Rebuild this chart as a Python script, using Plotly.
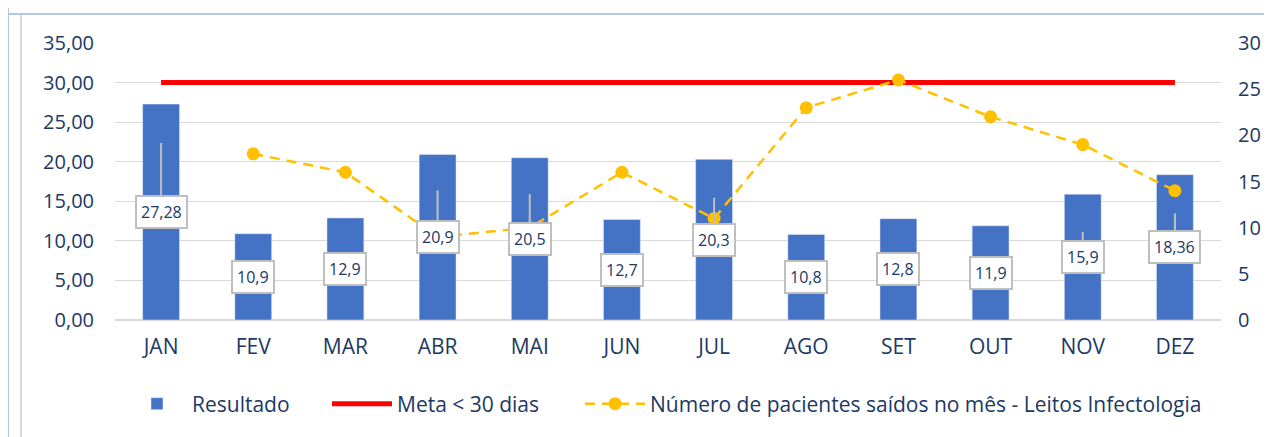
import plotly.graph_objects as go

months = ["JAN", "FEV", "MAR", "ABR", "MAI", "JUN", "JUL", "AGO", "SET", "OUT", "NOV", "DEZ"]
resultado = [27.28, 10.9, 12.9, 20.9, 20.5, 12.7, 20.3, 10.8, 12.8, 11.9, 15.9, 18.36]
meta = [30] * 12
pacientes = [None, 18, 16, 9, 10, 16, 11, 23, 26, 22, 19, 14]
left_ticks = [0, 5, 10, 15, 20, 25, 30, 35]
right_ticks = [0, 5, 10, 15, 20, 25, 30]

# callout pointer length (px above label centre), style only
pointer_px = [69, 0, 0, 47, 45, 0, 42, 0, 0, 0, 25, 34]

TEXT = "#203864"
FONT = "Open Sans"
PX_PER_UNIT = 277 / 35.0
OFF = 8  # page body margin

W, H = 1272 - OFF, 437 - OFF
L, R, T, B = 115 - OFF, 1221 - OFF, 43 - OFF, 320 - OFF

fig = go.Figure()
fig.add_trace(go.Bar(x=months, y=resultado, name="Resultado", marker_color="#4472C4",
                     width=0.4, yaxis="y", legend="legend"))
fig.add_trace(go.Scatter(x=months, y=meta, name="Meta < 30 dias", mode="lines",
                         line=dict(color="#FF0000", width=5), yaxis="y", legend="legend2"))
fig.add_trace(go.Scatter(x=months, y=pacientes, name="Número de pacientes saídos no mês - Leitos Infectologia",
                         mode="lines+markers", line=dict(color="#FFC000", width=2.5, dash="10px,7px"),
                         marker=dict(color="#FFC000", size=13), yaxis="y2", connectgaps=False,
                         legend="legend3"))

for i, (m, v) in enumerate(zip(months, resultado)):
    label = str(v).replace(".", ",")
    common = dict(text=label, font=dict(family=FONT, size=16, color=TEXT),
                  bgcolor="white", bordercolor="#BFBFBF", borderwidth=2, borderpad=4,
                  xref="x", yref="y")
    if pointer_px[i] > 0:
        fig.add_annotation(x=i, y=v / 2 + pointer_px[i] / PX_PER_UNIT,
                           ax=i, ay=v / 2, axref="x", ayref="y",
                           showarrow=True, arrowhead=0, arrowwidth=2, arrowcolor="#BFBFBF",
                           **common)
    else:
        fig.add_annotation(x=i, y=v / 2, showarrow=False, **common)

# decorative frame (page pixel -> paper)
def px_x(p):
    return (p - OFF - L) / float(R - L)

def px_y(p):
    return (B - (p - OFF)) / float(B - T)

frame = [
    dict(type="line", xref="paper", yref="paper", x0=px_x(8), x1=px_x(1272), y0=px_y(14), y1=px_y(14),
         line=dict(color="#B4C7E7", width=2)),
    dict(type="line", xref="paper", yref="paper", x0=px_x(8), x1=px_x(8), y0=px_y(8), y1=px_y(437),
         line=dict(color="#B4C7E7", width=2)),
    dict(type="line", xref="paper", yref="paper", x0=px_x(21), x1=px_x(21), y0=px_y(15), y1=px_y(437),
         line=dict(color="#D9D9D9", width=2)),
]

def leg(px_left):
    return dict(orientation="h", x=px_x(px_left), xanchor="left", y=px_y(404), yanchor="middle",
                font=dict(family=FONT, size=21, color=TEXT), itemwidth=60,
                bgcolor="rgba(0,0,0,0)")

fig.update_layout(
    width=W, height=H,
    margin=dict(l=L, r=W - R, t=T, b=H - B, autoexpand=False),
    plot_bgcolor="white", paper_bgcolor="white",
    separators=",.",
    font=dict(family=FONT, size=20, color=TEXT),
    shapes=frame,
    showlegend=True,
    legend=leg(122),
    legend2=leg(327),
    legend3=leg(580),
    xaxis=dict(type="category", range=[-0.5, 11.5], showgrid=False, showline=False,
               ticks="", tickfont=dict(size=21, color=TEXT), ticklabelstandoff=12,
               automargin=False),
    yaxis=dict(range=[0, 35], tickvals=left_ticks, tickformat=".2f", showgrid=True,
               gridcolor="#D9D9D9", gridwidth=1, zeroline=True, zerolinecolor="#D9D9D9",
               showline=False, ticks="", tickfont=dict(size=20, color=TEXT),
               ticklabelstandoff=20, automargin=False),
    yaxis2=dict(range=[0, 30], tickvals=right_ticks, overlaying="y", side="right",
                showgrid=False, zeroline=False, showline=False, ticks="",
                tickfont=dict(size=20, color=TEXT), ticklabelstandoff=16, automargin=False),
)

fig.write_html("out.html")
